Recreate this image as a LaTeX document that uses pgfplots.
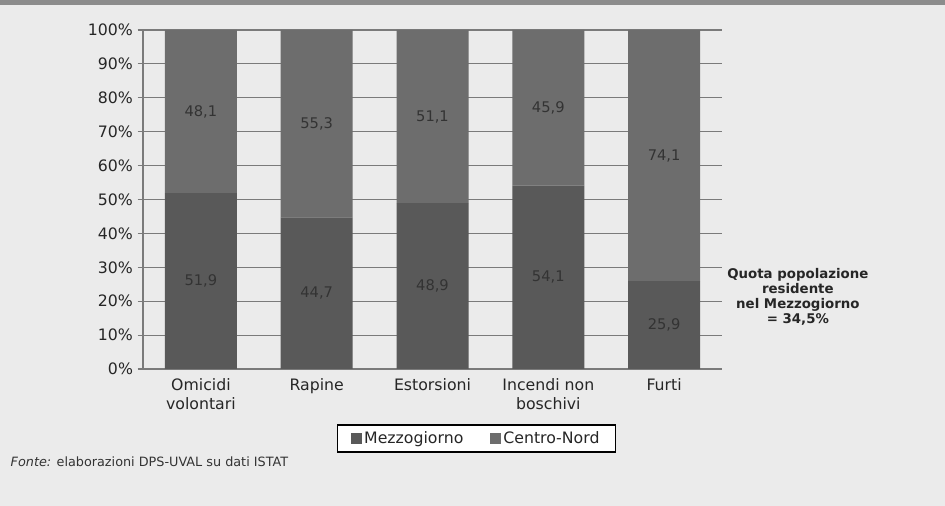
\documentclass[border=0pt]{standalone}
\usepackage{fontspec}
\setmainfont{DejaVu Sans}
\usepackage{pgfplots}
\usepackage{pgfplotstable}
\pgfplotsset{compat=1.18}

\definecolor{bgc}{HTML}{EBEBEB}
\definecolor{mez}{HTML}{595959}
\definecolor{cn}{HTML}{6D6D6D}
\definecolor{gridc}{HTML}{7A7A7A}

% quote percentuali per area
\pgfplotstableread{
x mez cn
0 51.9 48.1
1 44.7 55.3
2 48.9 51.1
3 54.1 45.9
4 25.9 74.1
}\datatab

\begin{document}
\begin{tikzpicture}[x=0.75pt,y=0.75pt]
\fill[bgc] (0,0) rectangle (945,506);
\fill[black!45] (0,501) rectangle (945,506);
\begin{axis}[
    at={(107.25pt,102.75pt)}, anchor=south west,
    scale only axis, width=434.25pt, height=254.25pt,
    ybar stacked, bar width=54pt,
    xmin=-0.5, xmax=4.5, ymin=0, ymax=100,
    clip=false,
    axis x line*=bottom, axis y line*=left,
    axis line style={gridc, line width=0.8pt},
    tick align=outside,
    xtick={0,...,4},
    xticklabels={{Omicidi\\volontari},Rapine,Estorsioni,{Incendi non\\boschivi},Furti},
    xticklabel style={align=center, text=black!85, font=\fontsize{11.8}{14}\selectfont},
    x tick style={draw=none},
    minor xtick={-0.5,0.5,...,4.5},
    minor tick length=4pt,
    minor tick style={gridc, line width=0.8pt},
    ytick={0,10,...,100},
    yticklabel={\pgfmathprintnumber{\tick}\%},
    yticklabel style={text=black!85, font=\fontsize{11.8}{14}\selectfont},
    /pgf/number format/assume math mode=true,
    y tick style={gridc, line width=0.8pt},
    major tick length=4pt,
    ymajorgrids, grid style={gridc, line width=0.8pt},
    legend columns=2,
    legend style={at={(0.576,-0.205)}, anchor=center, draw=black, line width=1.2pt,
        fill=white, font=\fontsize{11.8}{14}\selectfont, text=black!85,
        inner xsep=10pt, inner ysep=3pt,
        /tikz/every even column/.append style={column sep=18pt}},
    legend image code/.code={\fill[#1] (0pt,-4pt) rectangle (8pt,4pt);},
    nodes near coords={\pgfmathprintnumber[fixed,fixed zerofill,precision=1,use comma]{\pgfplotspointmeta}},
    every node near coord/.append style={anchor=center,
        text=black!80, font=\fontsize{11}{13}\selectfont},
]
\addplot[fill=mez, draw=none, point meta=explicit]
    table[x=x, y=mez, meta=mez] {\datatab};
\addplot[fill=cn, draw=none, point meta=explicit]
    table[x=x, y=cn, meta=cn] {\datatab};
\legend{Mezzogiorno, Centro-Nord}
\node[align=center, text=black!85, font=\bfseries\fontsize{10}{11.25}\selectfont]
    at (rel axis cs:1.131,0.212) {Quota popolazione\\residente\\nel Mezzogiorno\\= 34,5\%};
\end{axis}
\node[anchor=west, text=black!80, font=\fontsize{9.6}{11}\selectfont] at (6,44)
    {\textit{Fonte:} elaborazioni DPS-UVAL su dati ISTAT};
\end{tikzpicture}
\end{document}
